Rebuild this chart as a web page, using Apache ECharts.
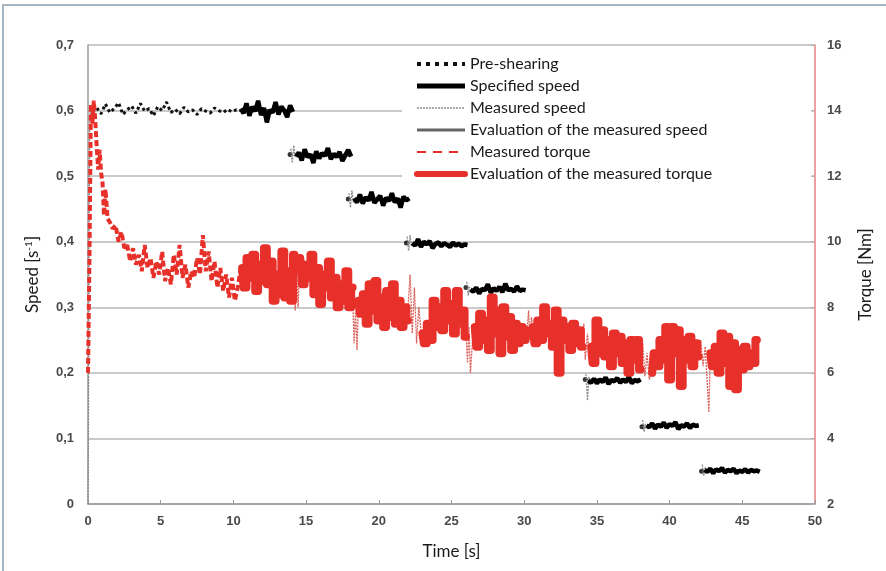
<!DOCTYPE html>
<html>
<head>
<meta charset="utf-8">
<script src="https://cdn.jsdelivr.net/npm/echarts@6/dist/echarts.min.js"></script>
<style>
  html, body { margin: 0; padding: 0; background: #fff; }
  #chart { width: 886px; height: 571px; }
</style>
</head>
<body>
<div id="chart"></div>
<script>
// ---- Sampling grid of the logged signals (s) ----
const SAMPLE = 0.2;

// ---- Speed [1/s] ----
// Pre-shearing at 0.6 1/s
const preShearTimes = [0.3, 0.6, 0.9, 1.2, 1.5, 1.8, 2.1, 2.4, 2.7, 3.0, 3.3, 3.6, 3.9, 4.2, 4.5, 4.8, 5.1, 5.4, 5.7, 6.0, 6.3, 6.6, 6.9, 7.2, 7.5, 7.8, 8.1, 8.4, 8.7, 9.0, 9.3, 9.6, 9.9, 10.2, 10.5];
const preShearSpeed = [0.598, 0.604, 0.595, 0.610, 0.597, 0.603, 0.612, 0.594, 0.601, 0.607, 0.596, 0.611, 0.599, 0.603, 0.592, 0.606, 0.600, 0.613, 0.597, 0.602, 0.595, 0.605, 0.598, 0.601, 0.594, 0.603, 0.599, 0.596, 0.604, 0.600, 0.597, 0.602, 0.598, 0.601, 0.600];

// Specified speed steps: start time of each step and its samples
const specStart = [10.5, 14.3, 18.3, 22.3, 26.3, 30.2, 34.4, 38.4, 42.4];
const specS1 = [0.603, 0.596, 0.611, 0.592, 0.606, 0.599, 0.615, 0.593, 0.604, 0.582, 0.601, 0.597, 0.613, 0.594, 0.606, 0.600, 0.590, 0.608, 0.598];
const specS2 = [0.530, 0.536, 0.524, 0.541, 0.529, 0.533, 0.520, 0.538, 0.527, 0.535, 0.531, 0.543, 0.526, 0.534, 0.529, 0.537, 0.523, 0.532, 0.540, 0.530];
const specS3 = [0.466, 0.460, 0.472, 0.458, 0.468, 0.463, 0.476, 0.459, 0.465, 0.470, 0.455, 0.467, 0.462, 0.474, 0.460, 0.466, 0.452, 0.469, 0.463, 0.466];
const specS4 = [0.398, 0.394, 0.404, 0.392, 0.400, 0.396, 0.401, 0.390, 0.397, 0.399, 0.393, 0.398, 0.395, 0.392, 0.399, 0.394, 0.397, 0.393, 0.396, 0.395];
const specS5 = [0.327, 0.324, 0.330, 0.321, 0.328, 0.326, 0.335, 0.322, 0.329, 0.325, 0.331, 0.323, 0.336, 0.326, 0.328, 0.324, 0.332, 0.325, 0.327, 0.326];
const specS6 = [0.262, 0.257, 0.260, 0.255, 0.259, 0.263, 0.256, 0.261, 0.258, 0.260, 0.254, 0.259, 0.262, 0.257, 0.260, 0.258, 0.261, 0.256, 0.259, 0.260];
const specS7 = [0.188, 0.185, 0.191, 0.184, 0.190, 0.186, 0.193, 0.183, 0.189, 0.187, 0.192, 0.185, 0.190, 0.186, 0.194, 0.184, 0.189, 0.187, 0.190];
const specS8 = [0.120, 0.117, 0.123, 0.115, 0.121, 0.118, 0.124, 0.116, 0.122, 0.119, 0.125, 0.114, 0.120, 0.118, 0.123, 0.116, 0.121, 0.119, 0.120];
const specS9 = [0.052, 0.049, 0.054, 0.047, 0.053, 0.050, 0.055, 0.048, 0.052, 0.050, 0.054, 0.047, 0.051, 0.049, 0.053, 0.048, 0.052, 0.050, 0.051, 0.049];

// Step-change markers (time, speed)
const stepMarkTimes = [13.9, 17.9, 21.9, 26.0, 30.0, 34.2, 38.1, 42.2];
const stepMarkSpeed = [0.533, 0.465, 0.398, 0.330, 0.262, 0.190, 0.118, 0.050];

// Measured speed: start-up ramp and transients after each step change
const measRampTimes = [0.00, 0.03, 0.06, 0.09, 0.12, 0.16];
const measRampSpeed = [0.000, 0.120, 0.300, 0.470, 0.580, 0.600];
const measTransTimes = [13.95, 14.05, 14.15, 14.25, 17.95, 18.05, 18.15, 18.25, 21.95, 22.05, 22.15, 22.25, 26.05, 26.15, 26.25, 30.05, 30.15, 30.25, 34.25, 34.35, 34.45, 34.55, 38.15, 38.25, 38.35, 42.25, 42.35, 42.45];
const measTransSpeed = [0.542, 0.520, 0.547, 0.528, 0.474, 0.452, 0.478, 0.460, 0.408, 0.386, 0.410, 0.392, 0.339, 0.318, 0.331, 0.271, 0.250, 0.263, 0.198, 0.158, 0.194, 0.182, 0.128, 0.110, 0.124, 0.060, 0.043, 0.056];
const measTransBreaks = [0, 4, 8, 12, 15, 18, 22, 25];

// Evaluation of the measured speed: level per step over its evaluation window
const evalSpeedLevel = [0.600, 0.532, 0.464, 0.396, 0.327, 0.259, 0.189, 0.120, 0.051];
const evalSpeedFrom  = [10.6, 14.6, 18.6, 22.6, 26.6, 30.6, 34.6, 38.6, 42.6];
const evalSpeedTo    = [14.0, 18.0, 22.0, 26.0, 30.0, 34.0, 38.0, 42.0, 46.0];

// ---- Torque [Nm] ----
// Measured torque during start-up and pre-shearing
const torqueInitTimes = [0, 0.1, 0.2, 0.3, 0.4, 0.5, 0.6, 0.7, 0.8, 0.9, 1.0, 1.1, 1.2, 1.35, 1.5, 1.7, 1.9, 2.1, 2.3, 2.5, 2.7, 2.9, 3.1, 3.3, 3.5, 3.7, 3.9, 4.1, 4.3, 4.5, 4.7, 4.9, 5.1, 5.3, 5.5, 5.7, 5.9, 6.1, 6.3, 6.5, 6.7, 6.9, 7.1, 7.3, 7.5, 7.7, 7.9, 8.1, 8.3, 8.5, 8.7, 8.9, 9.1, 9.3, 9.5, 9.7, 9.9, 10.1, 10.3, 10.5];
const torqueInit = [6.0, 9.5, 14.2, 13.6, 14.3, 13.7, 12.9, 12.2, 12.8, 12.1, 11.8, 10.8, 11.6, 10.7, 10.6, 10.4, 10.5, 10.0, 10.3, 9.8, 9.9, 9.4, 9.8, 9.3, 9.6, 9.1, 9.9, 9.2, 9.5, 8.9, 9.4, 9.0, 9.7, 8.8, 9.2, 8.7, 9.6, 9.0, 9.9, 8.9, 9.3, 8.6, 9.1, 8.9, 9.5, 9.0, 10.2, 9.1, 9.7, 8.8, 9.4, 8.6, 9.2, 8.5, 9.0, 8.3, 8.9, 8.2, 8.6, 9.2];

// Measured torque between the evaluation windows (transients)
const torqueTransTimes = [
  [14.15, 14.25, 14.35, 14.45, 14.55],
  [18.2, 18.3, 18.4, 18.5, 18.6],
  [22.0, 22.15, 22.3, 22.45, 22.6, 22.75, 22.9],
  [26.0, 26.1, 26.2, 26.3, 26.45, 26.6],
  [30.2, 30.3, 30.4, 30.5, 30.6],
  [34.0, 34.1, 34.2, 34.35, 34.5, 34.6],
  [38.0, 38.15, 38.3, 38.45, 38.6, 38.8],
  [42.0, 42.15, 42.3, 42.45, 42.6, 42.7, 42.8]
];
const torqueTrans = [
  [9.0, 7.9, 9.1, 8.0, 9.3],
  [8.4, 6.9, 7.9, 6.7, 8.1],
  [7.9, 9.0, 7.2, 8.6, 6.9, 8.0, 7.3],
  [7.2, 6.3, 7.4, 6.0, 7.0, 7.3],
  [7.3, 7.9, 7.0, 7.7, 7.3],
  [6.9, 7.5, 6.4, 7.2, 6.5, 6.8],
  [6.2, 6.9, 5.9, 6.6, 5.8, 6.0],
  [6.5, 7.0, 6.2, 6.8, 5.6, 4.8, 6.6]
];

// Evaluation of the measured torque: start of each window and its samples
const evalTorqueStart = [10.6, 14.6, 18.6, 23.0, 26.6, 30.6, 34.6, 38.8, 42.8];
const evalTorqueA = [9.2, 8.6, 9.5, 8.9, 9.6, 8.5, 9.3, 8.8, 9.8, 8.7, 9.4, 8.2, 9.0, 8.4, 9.7, 8.3, 9.1, 8.2, 9.6];
const evalTorqueB = [9.5, 8.7, 9.3, 8.9, 9.6, 8.4, 9.2, 8.1, 9.0, 8.6, 9.4, 8.3, 8.9, 8.0, 8.7, 8.2, 9.1, 8.0, 8.6];
const evalTorqueC = [8.2, 7.8, 8.4, 7.5, 8.7, 7.9, 8.8, 7.6, 8.3, 7.4, 8.5, 7.7, 8.7, 7.5, 8.2, 7.4, 8.0, 7.6];
const evalTorqueD = [7.2, 6.9, 7.5, 7.0, 8.2, 7.4, 8.0, 7.3, 8.5, 7.6, 8.1, 7.2, 8.5, 7.5, 7.9, 7.1];
const evalTorqueE = [7.4, 6.8, 7.8, 7.0, 7.6, 6.7, 8.3, 7.2, 7.9, 6.6, 8.0, 7.1, 7.7, 6.7, 7.5, 6.9, 7.4, 7.0, 7.3];
const evalTorqueF = [7.4, 6.9, 7.6, 7.0, 8.0, 7.2, 7.5, 6.8, 7.9, 6.0, 7.6, 7.0, 7.4, 6.7, 7.5, 6.9, 7.3, 6.8];
const evalTorqueG = [6.8, 6.3, 7.6, 6.6, 7.3, 6.5, 7.0, 6.2, 7.2, 6.6, 7.1, 6.3, 6.9, 6.0, 7.0, 6.4, 7.0, 6.1];
const evalTorqueH = [6.0, 6.6, 6.2, 7.0, 6.4, 7.4, 5.8, 7.4, 6.6, 7.3, 5.6, 7.0, 6.4, 7.1, 6.2, 6.9, 6.5];
const evalTorqueI = [6.6, 6.2, 6.8, 6.0, 7.2, 6.3, 7.1, 5.6, 6.9, 5.5, 6.7, 6.1, 6.8, 6.2, 6.6, 6.3, 7.0];

// ---- Axes ----
const timeTicks = { min: 0, max: 50, interval: 5 };
const speedTicks = { min: 0, max: 0.7, interval: 0.1 };
const torqueTicks = { min: 2, max: 16, interval: 2 };

// ---- helpers: build [t, v] pairs, segments separated by null gaps ----
function pairs(times, values) {
  return values.map((v, i) => [times[i], v]);
}
function sampled(start, values) {
  return values.map((v, i) => [+(start + i * SAMPLE).toFixed(2), v]);
}
function joinSegments(segs) {
  const out = [];
  segs.forEach((s, k) => {
    if (k > 0) out.push([null, null]);
    s.forEach(p => out.push(p));
  });
  return out;
}

const specSegs = [specS1, specS2, specS3, specS4, specS5, specS6, specS7, specS8, specS9]
  .map((vals, k) => sampled(specStart[k], vals));
const evalTorqueSegs = [evalTorqueA, evalTorqueB, evalTorqueC, evalTorqueD, evalTorqueE, evalTorqueF, evalTorqueG, evalTorqueH, evalTorqueI]
  .map((vals, k) => sampled(evalTorqueStart[k], vals));
const evalSpeedSegs = evalSpeedLevel.map((lv, k) => [[evalSpeedFrom[k], lv], [evalSpeedTo[k], lv]]);
const torqueTransSegs = torqueTrans.map((vals, k) => pairs(torqueTransTimes[k], vals));
const measSpeedSegs = [pairs(measRampTimes, measRampSpeed)].concat(
  measTransBreaks.map((s, k) => {
    const e = k + 1 < measTransBreaks.length ? measTransBreaks[k + 1] : measTransTimes.length;
    return pairs(measTransTimes.slice(s, e), measTransSpeed.slice(s, e));
  }));

const RED = '#e8302a';
const labelFont = "'Liberation Sans Narrow', 'Liberation Sans', Arial, sans-serif";
const titleFont = "Lato, 'Open Sans', sans-serif";
const noMarker = { opacity: 0 };

const chart = echarts.init(document.getElementById('chart'), null, { renderer: 'canvas' });

chart.setOption({
  animation: false,
  backgroundColor: '#fff',
  graphic: [{
    type: 'rect',
    silent: true,
    z: -10,
    shape: { x: 3, y: 5, width: 900, height: 620 },
    style: { fill: null, stroke: '#a6b6c2', lineWidth: 2 }
  }],
  grid: { left: 88, right: 71, top: 45, bottom: 67, containLabel: false },
  legend: {
    orient: 'vertical',
    left: 402,
    top: 52,
    padding: [4, 99, 8, 12],
    backgroundColor: '#fff',
    itemWidth: 48,
    itemHeight: 12,
    itemGap: 6,
    selectedMode: false,
    itemStyle: noMarker,
    textStyle: { fontFamily: titleFont, fontSize: 16, color: '#1a1a1a', lineHeight: 16 },
    data: [
      { name: 'Pre-shearing', itemStyle: noMarker, lineStyle: { color: '#111', width: 4, type: [4, 5] } },
      { name: 'Specified speed', itemStyle: noMarker, lineStyle: { color: '#000', width: 5, type: 'solid' } },
      { name: 'Measured speed', itemStyle: noMarker, lineStyle: { color: '#a8a8a8', width: 2, type: [2, 1] } },
      { name: 'Evaluation of the measured speed', itemStyle: noMarker, lineStyle: { color: '#666', width: 3, type: 'solid' } },
      { name: 'Measured torque', itemStyle: noMarker, lineStyle: { color: RED, width: 2, type: [9, 7] } },
      { name: 'Evaluation of the measured torque', itemStyle: noMarker, lineStyle: { color: RED, width: 6, type: 'solid' } }
    ]
  },
  xAxis: {
    type: 'value',
    min: timeTicks.min, max: timeTicks.max, interval: timeTicks.interval,
    name: 'Time [s]',
    nameLocation: 'middle',
    nameGap: 39,
    nameTextStyle: { fontFamily: titleFont, fontSize: 17, color: '#1a1a1a' },
    axisLine: { onZero: false, lineStyle: { color: '#9a9a9a', width: 1.5 } },
    axisTick: { inside: true, length: 4, lineStyle: { color: '#9a9a9a' } },
    axisLabel: { margin: 11, fontFamily: labelFont, fontWeight: 'bold', fontSize: 13, color: '#4a4a4a' },
    splitLine: { show: false }
  },
  yAxis: [{
    type: 'value',
    min: speedTicks.min, max: speedTicks.max, interval: speedTicks.interval,
    name: 'Speed [s{sup|-1}]',
    nameLocation: 'middle',
    nameRotate: 90,
    nameGap: 46,
    nameTextStyle: {
      fontFamily: titleFont, fontSize: 17, color: '#1a1a1a',
      rich: { sup: { fontFamily: titleFont, fontSize: 10, color: '#1a1a1a', verticalAlign: 'top', padding: [0, 0, 8, 0] } }
    },
    axisLine: { show: true, lineStyle: { color: '#9a9a9a', width: 1.5 } },
    axisTick: { show: false },
    axisLabel: {
      margin: 14, fontFamily: labelFont, fontWeight: 'bold', fontSize: 13, color: '#4a4a4a',
      formatter: v => (v === 0 ? '0' : v.toFixed(1).replace('.', ','))
    },
    splitLine: { show: true, lineStyle: { color: '#b8b8b8', width: 1.6 } }
  }, {
    type: 'value',
    position: 'right',
    min: torqueTicks.min, max: torqueTicks.max, interval: torqueTicks.interval,
    name: 'Torque [Nm]',
    nameLocation: 'middle',
    nameRotate: 90,
    nameGap: 42,
    nameTextStyle: { fontFamily: titleFont, fontSize: 17, color: '#1a1a1a' },
    axisLine: { show: true, lineStyle: { color: '#e88080', width: 1.5 } },
    axisTick: { show: true, inside: true, length: 4, lineStyle: { color: '#b0b0b0' } },
    axisLabel: { margin: 12, fontFamily: labelFont, fontWeight: 'bold', fontSize: 13, color: '#4a4a4a' },
    splitLine: { show: false }
  }],
  series: [
    {
      name: 'Evaluation of the measured speed',
      type: 'line', yAxisIndex: 0, symbol: 'none', connectNulls: false,
      lineStyle: { color: '#666', width: 3 },
      data: joinSegments(evalSpeedSegs)
    },
    {
      name: 'Measured speed',
      type: 'line', yAxisIndex: 0, symbol: 'none', connectNulls: false,
      lineStyle: { color: '#8a8a8a', width: 1.3, type: [2, 1] },
      data: joinSegments(measSpeedSegs)
    },
    {
      name: 'Pre-shearing',
      type: 'line', yAxisIndex: 0, symbol: 'none',
      lineStyle: { color: '#111', width: 3, type: [3, 3] },
      data: pairs(preShearTimes, preShearSpeed)
    },
    {
      name: 'Specified speed',
      type: 'line', yAxisIndex: 0, symbol: 'none', connectNulls: false,
      lineStyle: { color: '#000', width: 4.5 },
      data: joinSegments(specSegs)
    },
    {
      name: 'Step change',
      type: 'scatter', yAxisIndex: 0, symbol: 'circle', symbolSize: 5,
      itemStyle: { color: '#000' },
      data: pairs(stepMarkTimes, stepMarkSpeed)
    },
    {
      name: 'Measured torque',
      type: 'line', yAxisIndex: 1, symbol: 'none',
      lineStyle: { color: RED, width: 4, type: [6, 3] },
      data: pairs(torqueInitTimes, torqueInit)
    },
    {
      name: 'Measured torque',
      type: 'line', yAxisIndex: 1, symbol: 'none', connectNulls: false,
      lineStyle: { color: '#d9605a', width: 1.3, type: [2, 1] },
      data: joinSegments(torqueTransSegs)
    },
    {
      name: 'Evaluation of the measured torque',
      type: 'line', yAxisIndex: 1, symbol: 'none', connectNulls: false,
      step: 'middle',
      lineStyle: { color: RED, width: 8, join: 'round', cap: 'round' },
      data: joinSegments(evalTorqueSegs)
    }
  ]
});
</script>
</body>
</html>
